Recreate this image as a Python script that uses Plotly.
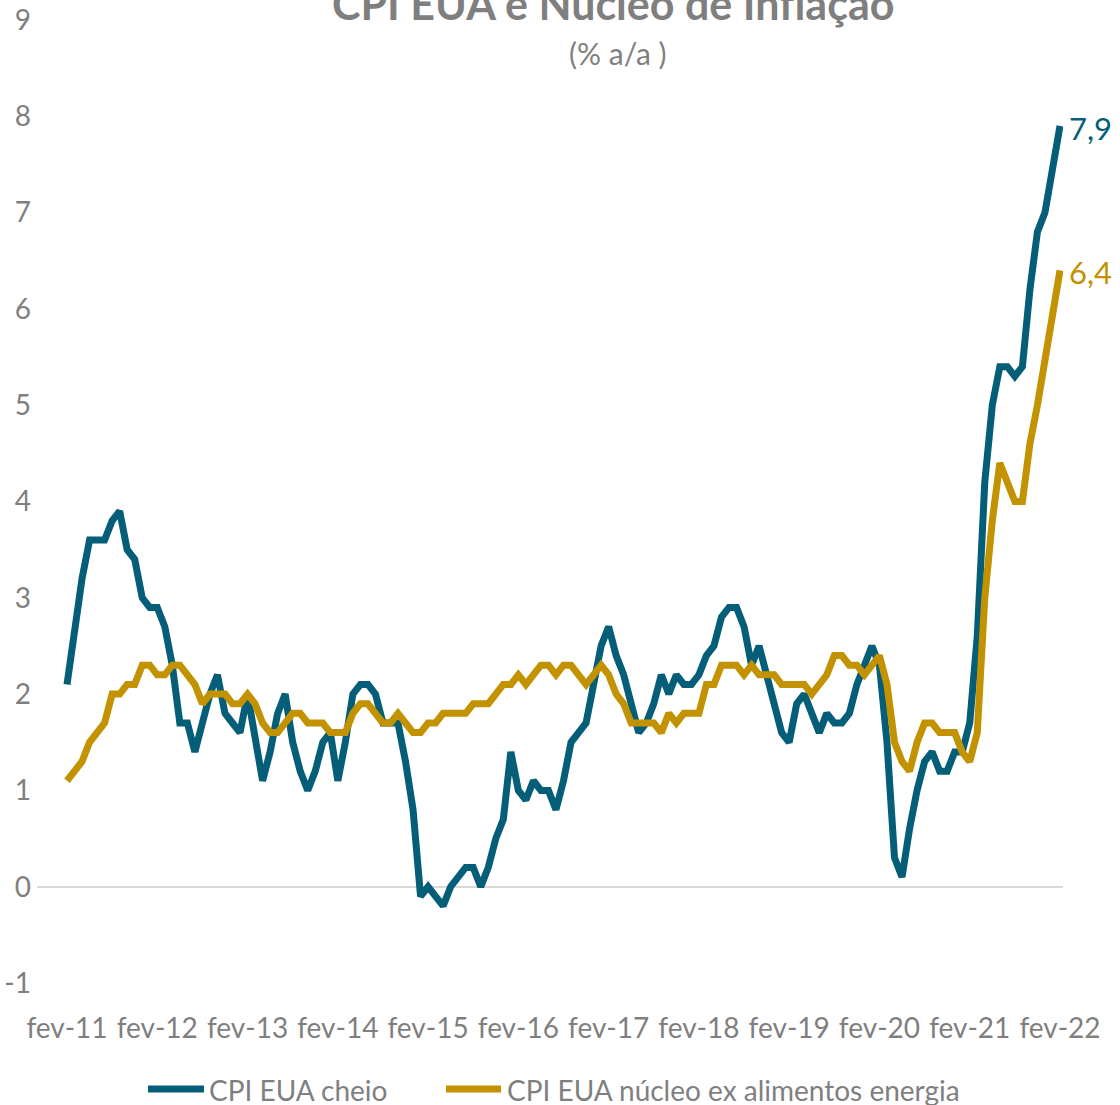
import plotly.graph_objects as go

# ---------------- data ----------------
MESES = ["jan", "fev", "mar", "abr", "mai", "jun", "jul", "ago", "set", "out", "nov", "dez"]

datas = []
ano, mes = 2011, 1
while (ano, mes) <= (2022, 1):
    datas.append(f"{MESES[mes]}-{ano % 100:02d}")
    mes += 1
    if mes == 12:
        mes, ano = 0, ano + 1

cpi_cheio = [
    2.1, 2.7, 3.2, 3.6, 3.6, 3.6, 3.8, 3.9, 3.5, 3.4, 3.0,          # 2011 fev-dez
    2.9, 2.9, 2.7, 2.3, 1.7, 1.7, 1.4, 1.7, 2.0, 2.2, 1.8, 1.7,     # 2012
    1.6, 2.0, 1.5, 1.1, 1.4, 1.8, 2.0, 1.5, 1.2, 1.0, 1.2, 1.5,     # 2013
    1.6, 1.1, 1.5, 2.0, 2.1, 2.1, 2.0, 1.7, 1.7, 1.7, 1.3, 0.8,     # 2014
    -0.1, 0.0, -0.1, -0.2, 0.0, 0.1, 0.2, 0.2, 0.0, 0.2, 0.5, 0.7,  # 2015
    1.4, 1.0, 0.9, 1.1, 1.0, 1.0, 0.8, 1.1, 1.5, 1.6, 1.7, 2.1,     # 2016
    2.5, 2.7, 2.4, 2.2, 1.9, 1.6, 1.7, 1.9, 2.2, 2.0, 2.2, 2.1,     # 2017
    2.1, 2.2, 2.4, 2.5, 2.8, 2.9, 2.9, 2.7, 2.3, 2.5, 2.2, 1.9,     # 2018
    1.6, 1.5, 1.9, 2.0, 1.8, 1.6, 1.8, 1.7, 1.7, 1.8, 2.1, 2.3,     # 2019
    2.5, 2.3, 1.5, 0.3, 0.1, 0.6, 1.0, 1.3, 1.4, 1.2, 1.2, 1.4,     # 2020
    1.4, 1.7, 2.6, 4.2, 5.0, 5.4, 5.4, 5.3, 5.4, 6.2, 6.8, 7.0,     # 2021
    7.5, 7.9,                                                        # 2022 jan-fev
]

cpi_nucleo = [
    1.1, 1.2, 1.3, 1.5, 1.6, 1.7, 2.0, 2.0, 2.1, 2.1, 2.3,          # 2011 fev-dez
    2.3, 2.2, 2.2, 2.3, 2.3, 2.2, 2.1, 1.9, 2.0, 2.0, 2.0, 1.9,     # 2012
    1.9, 2.0, 1.9, 1.7, 1.6, 1.6, 1.7, 1.8, 1.8, 1.7, 1.7, 1.7,     # 2013
    1.6, 1.6, 1.6, 1.8, 1.9, 1.9, 1.8, 1.7, 1.7, 1.8, 1.7, 1.6,     # 2014
    1.6, 1.7, 1.7, 1.8, 1.8, 1.8, 1.8, 1.9, 1.9, 1.9, 2.0, 2.1,     # 2015
    2.1, 2.2, 2.1, 2.2, 2.3, 2.3, 2.2, 2.3, 2.3, 2.2, 2.1, 2.2,     # 2016
    2.3, 2.2, 2.0, 1.9, 1.7, 1.7, 1.7, 1.7, 1.6, 1.8, 1.7, 1.8,     # 2017
    1.8, 1.8, 2.1, 2.1, 2.3, 2.3, 2.3, 2.2, 2.3, 2.2, 2.2, 2.2,     # 2018
    2.1, 2.1, 2.1, 2.1, 2.0, 2.1, 2.2, 2.4, 2.4, 2.3, 2.3, 2.2,     # 2019
    2.3, 2.4, 2.1, 1.5, 1.3, 1.2, 1.5, 1.7, 1.7, 1.6, 1.6, 1.6,     # 2020
    1.4, 1.3, 1.6, 3.0, 3.8, 4.4, 4.2, 4.0, 4.0, 4.6, 5.0, 5.5,     # 2021
    6.0, 6.4,                                                        # 2022 jan-fev
]

nomes = ["CPI EUA cheio", "CPI EUA núcleo ex alimentos energia"]
titulo = "CPI EUA e Núcleo de Inflação"
subtitulo = "(% a/a )"
y_ticks = [-1, 0, 1, 2, 3, 4, 5, 6, 7, 8, 9]
x_ticks = [d for d in datas if d.startswith("fev-")]

# ---------------- style ----------------
TEAL = "#045E77"
GOLD = "#C29200"
GRAY = "#7F7F7F"
FONT = "Lato, 'Open Sans', sans-serif"
LW = 7

W, H = 1120, 1105
L, R = 37, 57
T, B = 20, 122
PW, PH = W - L - R, H - T - B


def px_x(p):
    return (p - L) / PW


def px_y(p):
    return 1 - (p - T) / PH


fig = go.Figure()
fig.add_trace(go.Scatter(x=datas, y=cpi_cheio, mode="lines", name=nomes[0],
                         line=dict(color=TEAL, width=LW), showlegend=False))
fig.add_trace(go.Scatter(x=datas, y=cpi_nucleo, mode="lines", name=nomes[1],
                         line=dict(color=GOLD, width=LW), showlegend=False))

# end-of-line labels
for serie, cor in ((cpi_cheio, TEAL), (cpi_nucleo, GOLD)):
    fig.add_annotation(x=datas[-1], y=serie[-1], xref="x", yref="y",
                       text=f"{serie[-1]:.1f}".replace(".", ","),
                       showarrow=False, xanchor="left", xshift=7, yshift=-2,
                       font=dict(family=FONT, size=31, color=cor))

# title (partially cut at top, like the reference) and subtitle
fig.add_annotation(x=px_x(613), y=px_y(4), xref="paper", yref="paper",
                   text=f"<b>{titulo}</b>", showarrow=False,
                   xanchor="center", yanchor="middle",
                   font=dict(family=FONT, size=43, color=GRAY))
fig.add_annotation(x=px_x(618), y=px_y(53), xref="paper", yref="paper",
                   text=subtitulo, showarrow=False,
                   xanchor="center", yanchor="middle",
                   font=dict(family=FONT, size=30, color=GRAY))

# legend drawn at the reference position
leg_y = px_y(1089)
for (x0, x1, tx), nome, cor in zip(((148, 204, 207), (446, 501, 505)), nomes, (TEAL, GOLD)):
    fig.add_shape(type="line", xref="paper", yref="paper",
                  x0=px_x(x0), x1=px_x(x1), y0=leg_y, y1=leg_y,
                  line=dict(color=cor, width=LW))
    fig.add_annotation(x=px_x(tx), y=px_y(1090), xref="paper", yref="paper",
                       text=nome, showarrow=False, xanchor="left", yanchor="middle",
                       font=dict(family=FONT, size=28, color=GRAY))

n = len(datas)
px_per = (1060 - 67) / (n - 1)
fig.update_layout(
    width=W, height=H,
    margin=dict(l=L, r=R, t=T, b=B, autoexpand=False),
    paper_bgcolor="white", plot_bgcolor="white",
    font=dict(family=FONT, size=28, color=GRAY),
    showlegend=False,
    hovermode=False,
    xaxis=dict(type="category", range=[-(67 - L) / px_per, (n - 1) + (1063 - 1060) / px_per],
               tickmode="array", tickvals=x_ticks, ticktext=x_ticks,
               showgrid=False, zeroline=False, showline=False, ticks="",
               automargin=False, ticklabelstandoff=26,
               tickfont=dict(family=FONT, size=28, color=GRAY)),
    yaxis=dict(range=[-1, 9], tickmode="array", tickvals=y_ticks,
               ticktext=[str(v) for v in y_ticks],
               showgrid=False, zeroline=True, zerolinecolor="#D9D9D9", zerolinewidth=2,
               showline=False, ticks="", automargin=False, ticklabelstandoff=5,
               tickfont=dict(family=FONT, size=28, color=GRAY)),
)

# remove the browser's default 8px body margin so the figure sits at (0, 0)
fig.write_html("out.html", config={"displayModeBar": False},
               post_script="document.body.style.margin='0';document.body.style.overflow='hidden';")
